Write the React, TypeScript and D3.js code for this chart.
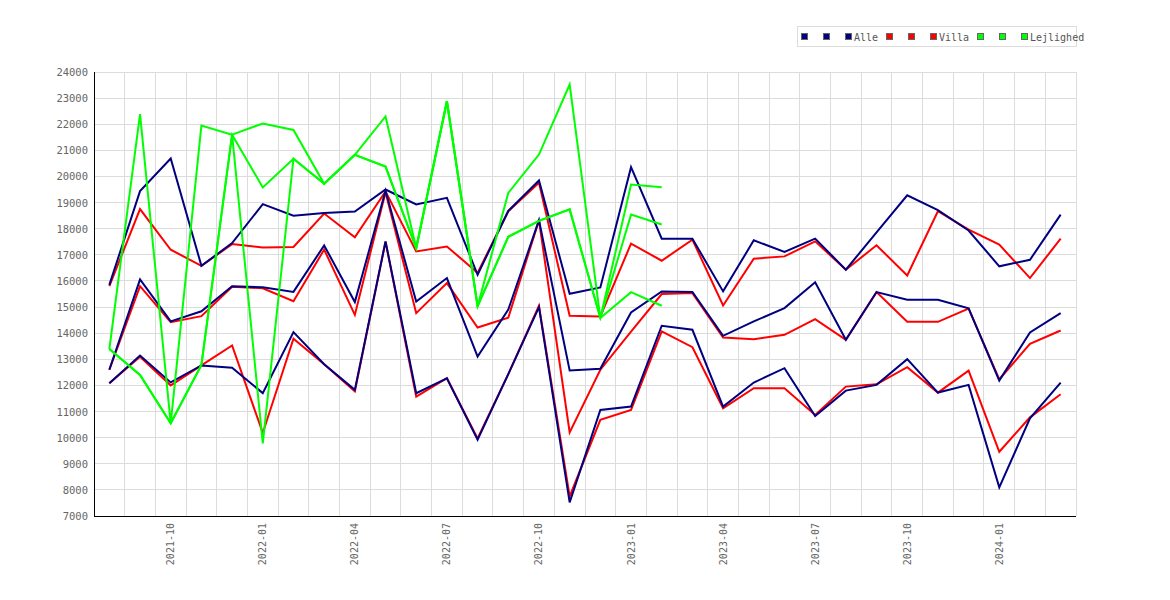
import { useMemo } from "react";
import * as d3 from "d3";

// Monthly series, 2021-08 .. 2024-03 (three sub-series per category)
const months = [
  "2021-08", "2021-09", "2021-10", "2021-11", "2021-12",
  "2022-01", "2022-02", "2022-03", "2022-04", "2022-05", "2022-06",
  "2022-07", "2022-08", "2022-09", "2022-10", "2022-11", "2022-12",
  "2023-01", "2023-02", "2023-03", "2023-04", "2023-05", "2023-06",
  "2023-07", "2023-08", "2023-09", "2023-10", "2023-11", "2023-12",
  "2024-01", "2024-02", "2024-03",
];

const tickMonths = [
  "2021-10", "2022-01", "2022-04", "2022-07", "2022-10",
  "2023-01", "2023-04", "2023-07", "2023-10", "2024-01",
];

const yTicks = [7000, 8000, 9000, 10000, 11000, 12000, 13000, 14000, 15000,
  16000, 17000, 18000, 19000, 20000, 21000, 22000, 23000, 24000];

type V = number | null;

const alle1: V[] = [15850, 19440, 20690, 16580, 17450, 18940, 18500, 18600, 18660, 19500,
  18930, 19180, 16235, 18680, 19845, 15510, 15750, 20355, 17620, 17620, 15600, 17555,
  17110, 17620, 16430, 17860, 19280, 18710, 17930, 16560, 16810, 18540];
const alle2: V[] = [12600, 16060, 14450, 14840, 15800, 15760, 15580, 17360, 15190, 19450,
  15215, 16110, 13105, 14900, 18330, 12570, 12640, 14795, 15600, 15575, 13900, 14450,
  14960, 15950, 13745, 15575, 15280, 15280, 14950, 12185, 14030, 14770];
const alle3: V[] = [12085, 13145, 12115, 12765, 12680, 11705, 14040, 12810, 11830, 17515,
  11700, 12275, 9920, 12430, 14995, 7520, 11060, 11190, 14285, 14130, 11190, 12110,
  12660, 10830, 11800, 12020, 13005, 11725, 12020, 8095, 10740, 12110];

const villa1: V[] = [15800, 18750, 17195, 16580, 17410, 17285, 17300, 18580, 17670, 19430,
  17130, 17320, 16310, 18670, 19760, 14665, 14640, 17430, 16775, 17580, 15060, 16850,
  16940, 17515, 16430, 17365, 16210, 18670, 17965, 17390, 16110, 17620];
const villa2: V[] = [12600, 15800, 14420, 14650, 15780, 15720, 15225, 17200, 14700, 19400,
  14767, 15918, 14217, 14590, 18320, 10200, 12600, 14060, 15500, 15535, 13834, 13770,
  13936, 14537, 13744, 15573, 14435, 14435, 14946, 12235, 13591, 14102];
const villa3: V[] = [12085, 13100, 12000, 12765, 13530, 10180, 13790, 12810, 11770, 17500,
  11570, 12275, 9970, 12430, 15050, 7750, 10680, 11060, 14065, 13463, 11123, 11890,
  11890, 10867, 11954, 12043, 12696, 11724, 12568, 9460, 10778, 11660];

const lejl1: V[] = [13390, 22390, 10550, 21950, 21600, 9780, 20680, 19720, 20830, 22300,
  17250, 22880, 15030, 19370, 20840, 23520, 14580, 19690, 19590,
  null, null, null, null, null, null, null, null, null, null, null, null, null];
const lejl2: V[] = [13390, 12400, 10550, 12785, 21600, 22030, 21780, 19720, 20830, 20380,
  17250, 22880, 15030, 17690, 18300, 18740, 14580, 18540, 18160,
  null, null, null, null, null, null, null, null, null, null, null, null, null];
const lejl3: V[] = [13390, 12400, 10550, 12785, 21600, 19580, 20680, 19720, 20830, 20380,
  17250, 22880, 15030, 17690, 18300, 18740, 14580, 15570, 15050,
  null, null, null, null, null, null, null, null, null, null, null, null, null];

const categories = ["Alle", "Villa", "Lejlighed"];
const colors: Record<string, string> = {
  Alle: "#000080",
  Villa: "#ff0000",
  Lejlighed: "#00ff00",
};
const seriesByCat: Record<string, V[][]> = {
  Alle: [alle1, alle2, alle3],
  Villa: [villa1, villa2, villa3],
  Lejlighed: [lejl1, lejl2, lejl3],
};
// draw order: red under blue, green on top
const drawOrder = ["Villa", "Alle", "Lejlighed"];

const W = 1170;
const H = 600;
const LEFT = 94;
const RIGHT = 1076;
const TOP = 72;
const BOTTOM = 516;
const FONT = "DejaVu Sans Mono, Liberation Mono, monospace";

export default function App() {
  const x = useMemo(
    () => d3.scaleBand<string>().domain(months).range([LEFT, RIGHT]).padding(0),
    []
  );
  const y = useMemo(
    () => d3.scaleLinear().domain([7000, 24000]).range([BOTTOM, TOP]),
    []
  );

  const line = d3
    .line<V>()
    .defined((d) => d != null)
    .x((_d, i) => (x(months[i]) ?? 0) + x.bandwidth() / 2)
    .y((d) => y(d as number));

  // legend layout: three squares per category, label only on the last
  const legendItems: { x: number; color: string; label: string }[] = [];
  let lx = 801;
  for (const cat of categories) {
    for (let k = 0; k < 3; k++) {
      const label = k === 2 ? cat : "";
      legendItems.push({ x: lx, color: colors[cat], label });
      lx += label ? 10 + label.length * 6 + 7 : 22;
    }
  }

  const bw = x.bandwidth();

  return (
    <div style={{ position: "absolute", left: 0, top: 0 }}>
      <svg width={W} height={H} style={{ display: "block", background: "#fff" }}>
        {/* grid */}
        <g stroke="#dcdcdc" strokeWidth={1} shapeRendering="crispEdges">
          {yTicks.slice(1).map((t) => (
            <line key={t} x1={LEFT} x2={RIGHT} y1={y(t)} y2={y(t)} />
          ))}
          {months.map((m) => (
            <line
              key={m}
              x1={(x(m) ?? 0) + bw}
              x2={(x(m) ?? 0) + bw}
              y1={TOP}
              y2={BOTTOM}
            />
          ))}
        </g>

        {/* series */}
        {drawOrder.map((cat) =>
          seriesByCat[cat].map((s, k) => (
            <path
              key={cat + k}
              d={line(s) || ""}
              fill="none"
              stroke={colors[cat]}
              strokeWidth={2}
              strokeLinejoin="miter"
            />
          ))
        )}

        {/* axes */}
        <g stroke="#000" strokeWidth={1} shapeRendering="crispEdges">
          <line x1={LEFT} x2={LEFT} y1={TOP} y2={BOTTOM} />
          <line x1={LEFT} x2={RIGHT} y1={BOTTOM} y2={BOTTOM} />
        </g>

        {/* y labels */}
        <g fill="#666" fontFamily={FONT} fontSize={10.5} textAnchor="end">
          {yTicks.map((t) => (
            <text key={t} x={88} y={y(t) + 4}>
              {t}
            </text>
          ))}
        </g>

        {/* x labels */}
        <g fill="#666" fontFamily={FONT} fontSize={10} textAnchor="end">
          {tickMonths.map((m) => {
            const cx = (x(m) ?? 0) + bw / 2 + 3.5;
            return (
              <text key={m} transform={`translate(${cx},523) rotate(-90)`}>
                {m}
              </text>
            );
          })}
        </g>

        {/* legend */}
        <rect x={797.5} y={26.5} width={279} height={20} fill="#fff" stroke="#ddd" shapeRendering="crispEdges" />
        {legendItems.map((it, i) => (
          <g key={i}>
            <rect
              x={it.x + 0.5}
              y={33.5}
              width={6}
              height={6}
              fill={it.color}
              stroke="#666"
              strokeWidth={1}
              shapeRendering="crispEdges"
            />
            {it.label && (
              <text x={it.x + 9} y={41} fontFamily={FONT} fontSize={10} fill="#555">
                {it.label}
              </text>
            )}
          </g>
        ))}
      </svg>
    </div>
  );
}
